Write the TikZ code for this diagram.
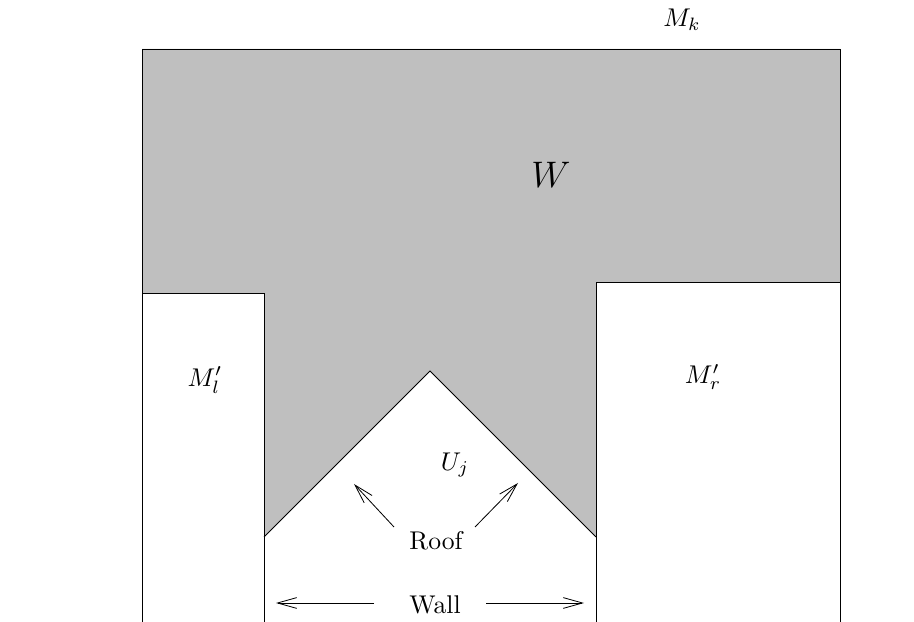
\documentclass[tikz,border=0pt]{standalone}
\usetikzlibrary{arrows.meta}
\definecolor{wgray}{RGB}{191,191,191}
\begin{document}
\begin{tikzpicture}[x=0.39pt,y=-0.39pt,
  edge/.style={line width=0.32pt},
  lbl/.style={inner sep=0pt},
  arr/.style={line width=0.32pt,-{Straight Barb[length=7.5pt,width=4.2pt]}}]
\useasboundingbox (0,0) rectangle (914,622);
% shaded region W
\fill[wgray] (142,49) -- (840,49) -- (840,282) -- (596,282) -- (596,537) -- (430,371)
  -- (264,537) -- (264,293) -- (142,293) -- cycle;
% outlines
\draw[edge] (142,622) -- (142,49) -- (840,49) -- (840,622);
\draw[edge] (142,293) -- (264,293) -- (264,622);
\draw[edge] (596,622) -- (596,282) -- (840,282);
\draw[edge] (264,537) -- (430,371) -- (596,537);
% labels
\node[lbl] (mk) at (682,20) {$M_k$};
\node[lbl] (w) at (551,175) {\Large $W$};
\node[lbl] (ml) at (205,380) {$M'_l$};
\node[lbl] (mr) at (703,377) {$M'_r$};
\node[lbl] (uj) at (455,465) {$U_j$};
\node[inner sep=2pt] (roof) at (436,541) {Roof};
\node[inner sep=2pt] (wall) at (435,605) {Wall};
% arrow ends
\coordinate (rl0) at (394,527);
\coordinate (rl1) at (354,484);
\coordinate (rr0) at (475,527);
\coordinate (rr1) at (518,483);
\coordinate (wl0) at (374,603);
\coordinate (wl1) at (276,603);
\coordinate (wr0) at (486,603);
\coordinate (wr1) at (584,603);
\draw[arr] (rl0) -- (rl1);
\draw[arr] (rr0) -- (rr1);
\draw[arr] (wl0) -- (wl1);
\draw[arr] (wr0) -- (wr1);
\end{tikzpicture}
\end{document}
